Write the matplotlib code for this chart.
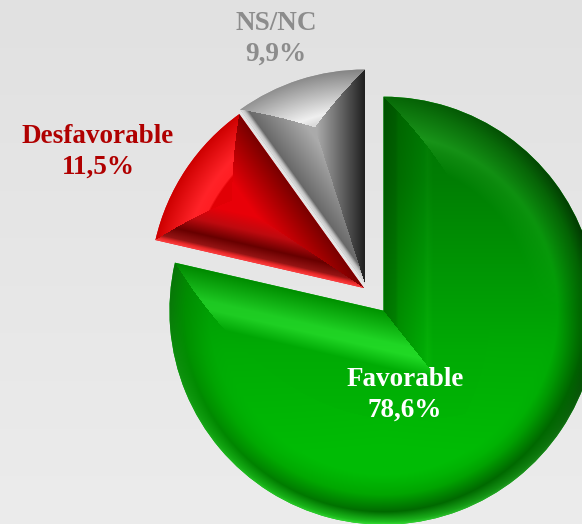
import matplotlib
matplotlib.use("Agg")
import matplotlib.pyplot as plt
import numpy as np

labels = ["Favorable", "Desfavorable", "NS/NC"]
values = [78.6, 11.5, 9.9]

W, H = 582, 524
R = 214
colors = ["#00b905", "#e6000a", "#a0a0a0"]
# pie moves the slices by this many data units, here pixels
explode = [26.3, 3.74, 6.9]
text_colors = ["white", "#b00000", "#8c8c8c"]
text_pos = [(405, 395), (98, 152), (276, 39)]


def ramp(points, d):
    xs = [p[0] for p in points]
    return np.dstack([np.interp(d, xs, [p[1][i] for p in points]) for i in range(3)])


# colour against distance from an edge, (distance px, rgb)
green_low = [(0, (55, 225, 55)), (3, (30, 190, 30)), (13, (0, 105, 0)), (30, (0, 165, 0)), (50, (0, 188, 5))]
green_arc = [
    (-90, green_low),
    (0, [(0, (0, 45, 0)), (14, (0, 110, 0)), (40, (0, 185, 5))]),
    (90, [(0, (10, 170, 10)), (38, (45, 235, 45)), (46, (30, 215, 30)), (65, (0, 185, 5))]),
    (180, [(0, (10, 140, 10)), (16, (0, 165, 0)), (40, (0, 185, 5))]),
    (270, green_low),
]
green_left = [(0, (0, 170, 0)), (30, (35, 235, 40)), (38, (35, 235, 40)), (55, (0, 185, 5))]
green_top = [(0, (0, 130, 0)), (12, (0, 145, 0)), (15, (0, 160, 0)), (40, (0, 185, 5)), (44, (5, 192, 8)), (50, (0, 185, 5))]

red_arc = [
    (90, [(0, (205, 0, 0)), (30, (255, 35, 40)), (40, (255, 30, 35)), (42, (225, 0, 5))]),
    (180, [(0, (205, 0, 0)), (30, (255, 35, 40)), (40, (255, 30, 35)), (42, (225, 0, 5))]),
]
red_right = [(0, (120, 0, 0)), (12, (150, 0, 0)), (45, (232, 0, 8))]
red_low = [(0, (255, 65, 65)), (3, (230, 40, 40)), (6, (150, 20, 20)), (16, (105, 0, 0)), (30, (190, 10, 15)), (45, (232, 0, 8))]

grey_arc = [
    (90, [(0, (130, 130, 130)), (40, (235, 235, 235)), (47, (215, 215, 215))]),
    (130, [(0, (150, 150, 150)), (40, (245, 245, 245)), (47, (225, 225, 225))]),
]
grey_right = [(0, (30, 30, 30)), (10, (60, 60, 60)), (48, (170, 170, 170))]
grey_left = [(0, (225, 225, 225)), (3, (190, 190, 190)), (6, (105, 105, 105)), (44, (170, 170, 170))]

# per slice: arc, edge at theta2, edge at theta1
shading = [(green_arc, green_top, green_left), (red_arc, red_low, red_right), (grey_arc, grey_left, grey_right)]

fig = plt.figure(figsize=(W / 100, H / 100), dpi=100)
ax = fig.add_axes([0, 0, 1, 1])

wedges, _ = ax.pie(values, colors=colors, explode=explode, startangle=90, counterclock=False,
                   radius=R, center=(367.1, H - 290.1), frame=False)

X, Y = np.meshgrid(np.arange(W) + 0.5, np.arange(H) + 0.5)


def edge_dist(dx, dy, theta):
    ux, uy = np.cos(np.radians(theta)), np.sin(np.radians(theta))
    return np.abs(dx * uy - dy * ux)


def shade(w, arc, first, second):
    cx, cy = w.center
    dx, dy = X - cx, Y - cy
    rho = np.hypot(dx, dy)
    ang = np.degrees(np.arctan2(dy, dx))
    if arc[0][0] < 0:
        ang = np.where(ang < -90, ang + 360, ang)
    else:
        ang = np.where(ang < 0, ang + 360, ang)
    d_arc = np.clip(w.r - rho, 0, None)

    # each side of the bisector belongs to one straight edge only
    mid = np.radians((w.theta1 + w.theta2) / 2)
    side = np.cos(mid) * dy - np.sin(mid) * dx
    d_first = np.where(side >= 0, edge_dist(dx, dy, w.theta2), np.inf)
    d_second = np.where(side < 0, edge_dist(dx, dy, w.theta1), np.inf)

    arc_rgb = np.zeros((H, W, 3))
    anchors = [a[0] for a in arc]
    for i, (a, pts) in enumerate(arc):
        weight = np.interp(ang, anchors, np.eye(len(arc))[i])
        arc_rgb += ramp(pts, d_arc) * weight[..., None]

    nearest = np.argmin(np.dstack([d_arc, d_first, d_second]), axis=2)
    rgb = np.where((nearest == 0)[..., None], arc_rgb,
                   np.where((nearest == 1)[..., None], ramp(first, d_first), ramp(second, d_second)))
    return rgb


# page background
grey_bg = np.interp(H - Y, [0, H], [225, 236]) / 255
ax.imshow(np.dstack([grey_bg] * 3), extent=(0, W, 0, H), origin="lower", zorder=0, aspect="auto")

for i, (w, (arc, first, second)) in enumerate(zip(wedges, shading)):
    rgb = shade(w, arc, first, second)
    if i == 0:
        rgb = rgb * np.interp(H - Y, [97, 180, 250, 350, 450], [0.62, 0.68, 0.78, 0.92, 1.0])[..., None]
    w.set_zorder(2 + i)
    im = ax.imshow(np.clip(rgb, 0, 255) / 255, extent=(0, W, 0, H), origin="lower",
                   zorder=2.5 + i, aspect="auto", interpolation="nearest")
    im.set_clip_path(w)

for name, v, c, (tx, ty) in zip(labels, values, text_colors, text_pos):
    ax.text(tx, H - ty, f"{name}\n{v:.1f}%".replace(".", ","), color=c, ha="center", va="center",
            family="Liberation Serif", weight="bold", fontsize=19.5, linespacing=1.3, zorder=10)

ax.set_xlim(0, W)
ax.set_ylim(0, H)
ax.set_aspect("auto")
ax.axis("off")
fig.savefig("out.png", dpi=100)
